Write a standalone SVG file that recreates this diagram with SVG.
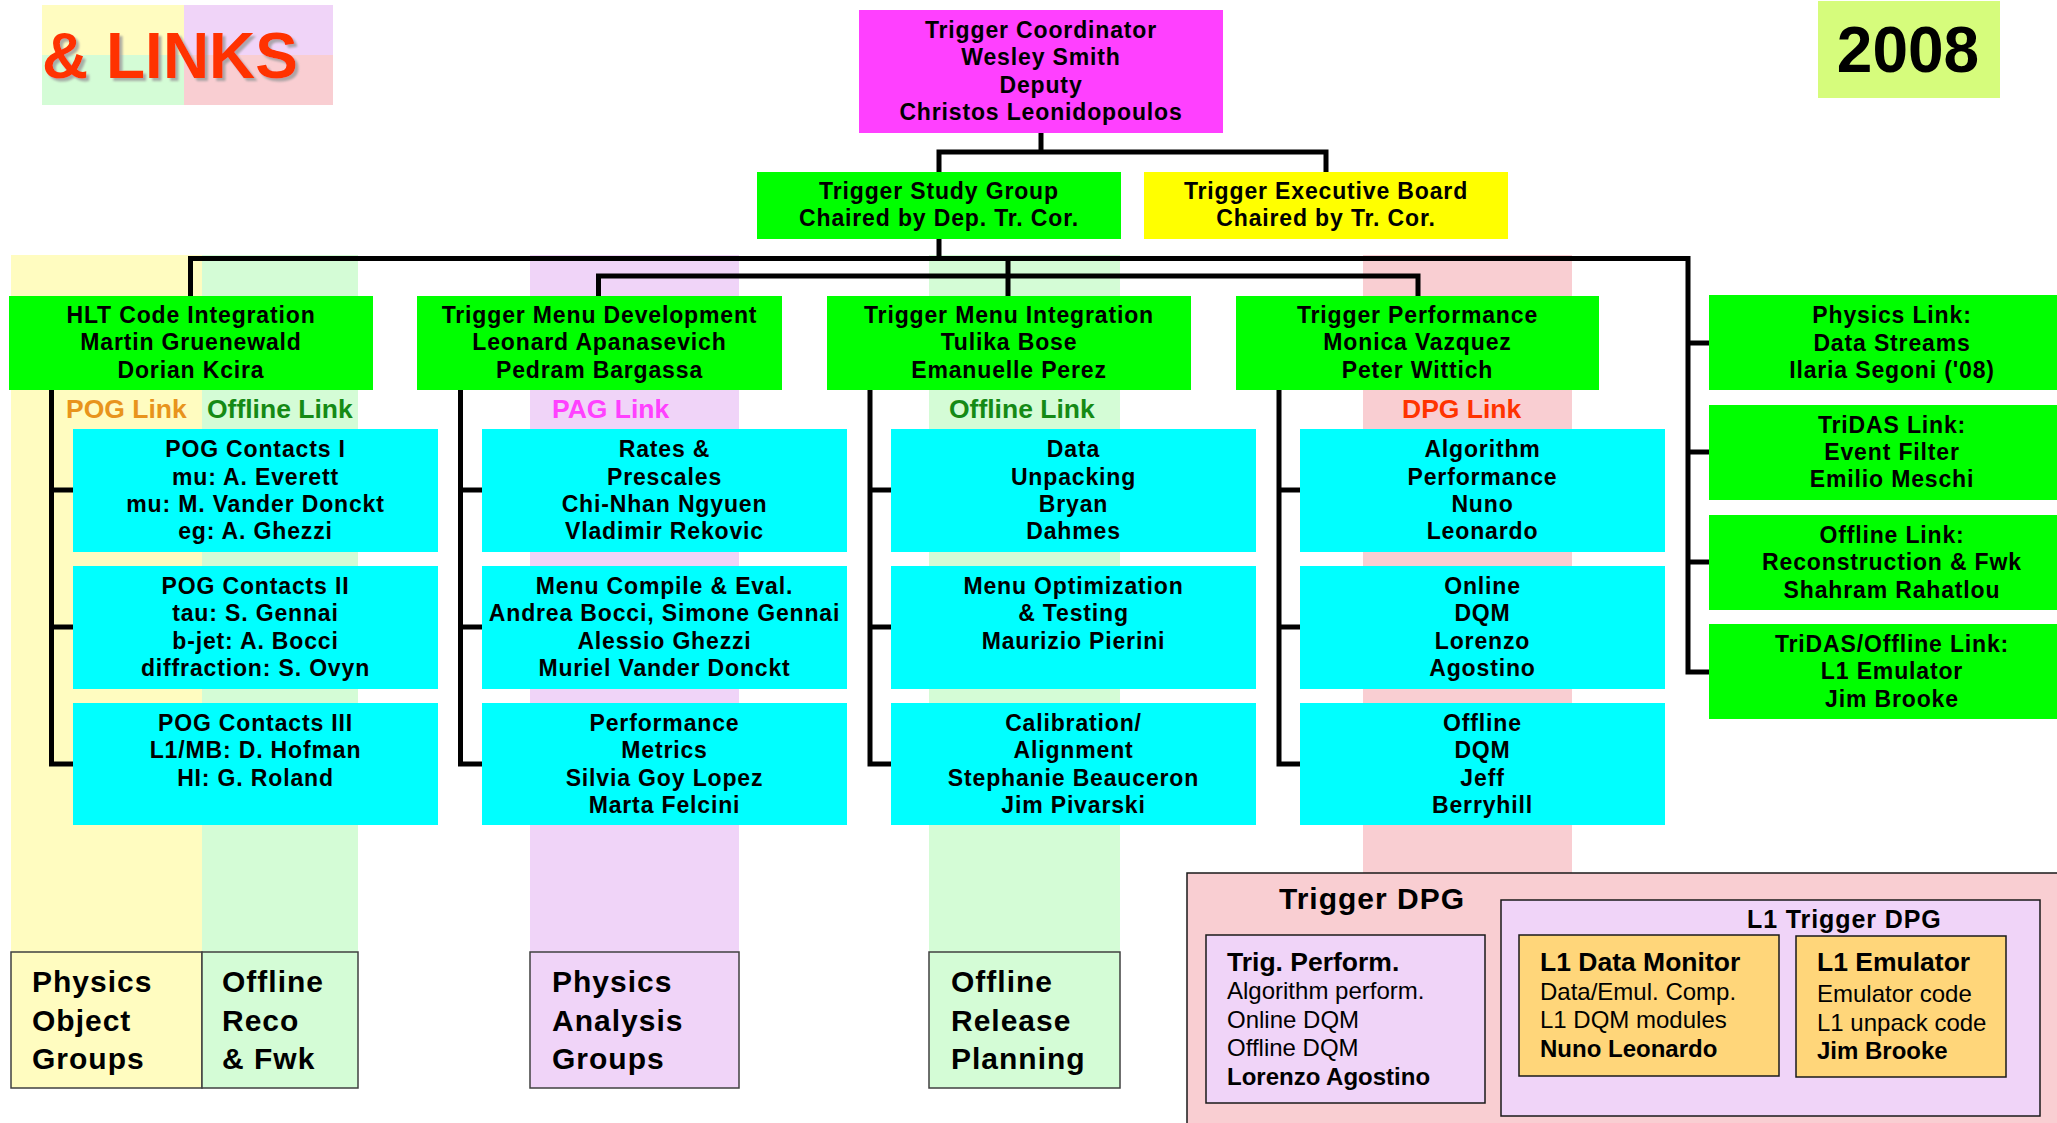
<svg xmlns="http://www.w3.org/2000/svg" width="2057" height="1123" viewBox="0 0 2057 1123">
<defs>
<style>
.yel{fill:#FFFCC0}.lgr{fill:#D4FCD6}.lav{fill:#F0D4F8}.pnk{fill:#F9CED2}
.grn{fill:#00FF00}.cyn{fill:#00FFFF}
.t{font-family:"Liberation Sans",Arial,Helvetica,sans-serif;font-weight:bold;font-size:23px;letter-spacing:0.85px;text-anchor:middle;fill:#000}
.lbl{font-family:"Liberation Sans",Arial,Helvetica,sans-serif;font-weight:bold;font-size:26.5px}
.big{font-family:"Liberation Sans",Arial,Helvetica,sans-serif;font-weight:bold;font-size:30px;letter-spacing:1px;fill:#000}
.hd{font-family:"Liberation Sans",Arial,Helvetica,sans-serif;font-weight:bold;font-size:26.5px;fill:#000}
.bd{font-family:"Liberation Sans",Arial,Helvetica,sans-serif;font-size:24px;fill:#000}
.bb{font-family:"Liberation Sans",Arial,Helvetica,sans-serif;font-weight:bold;font-size:24px;fill:#000}
.bx{stroke:#404040;stroke-width:1.5}
.dk{stroke:#1a1a1a;stroke-width:1.5}
.conn path{stroke:#000;stroke-width:5;fill:none;stroke-linejoin:miter}
</style>
<filter id="shadow" x="-10%" y="-10%" width="130%" height="140%">
<feDropShadow dx="3" dy="3" stdDeviation="0.8" flood-color="#9a9a9a" flood-opacity="0.8"/>
</filter>
</defs>
<rect width="2057" height="1123" fill="#ffffff"/>

<!-- title block -->
<g id="title-links">
<rect x="42" y="5" width="142" height="50" class="yel"/>
<rect x="184" y="5" width="149" height="50" class="lav"/>
<rect x="42" y="55" width="142" height="50" class="lgr"/>
<rect x="184" y="55" width="149" height="50" class="pnk"/>
<text x="42" y="78" font-family="Liberation Sans,Arial,sans-serif" font-weight="bold" font-size="64" fill="#FF3300" filter="url(#shadow)">&amp; LINKS</text>
</g>
<g id="year">
<rect x="1818" y="1" width="182" height="97" fill="#D6FC7C"/>
<text x="1908" y="72" font-family="Liberation Sans,Arial,sans-serif" font-weight="bold" font-size="64" text-anchor="middle" fill="#000">2008</text>
</g>

<!-- background columns -->
<g id="columns">
<rect x="11" y="255" width="191" height="697" class="yel"/>
<rect x="202" y="255" width="156" height="697" class="lgr"/>
<rect x="530" y="255" width="209" height="697" class="lav"/>
<rect x="929" y="255" width="191" height="697" class="lgr"/>
<rect x="1363" y="255" width="209" height="618" class="pnk"/>
</g>

<!-- connectors -->
<g id="connectors" class="conn">
<path d="M1041 133 V152"/>
<path d="M939 172 V152 H1326 V172"/>
<path d="M939 239 V258.5"/>
<path d="M190.5 296 V258.5 H1688 V672 H1709"/>
<path d="M1008 258.5 V296"/>
<path d="M598.5 296 V276 H1418 V296"/>
<path d="M1688 343 H1709"/>
<path d="M1688 452 H1709"/>
<path d="M1688 562 H1709"/>
<path d="M51.5 390 V764 H73"/>
<path d="M51.5 490 H73"/>
<path d="M51.5 627 H73"/>
<path d="M460.5 390 V764 H482"/>
<path d="M460.5 490 H482"/>
<path d="M460.5 627 H482"/>
<path d="M870 390 V764 H891"/>
<path d="M870 490 H891"/>
<path d="M870 627 H891"/>
<path d="M1279 390 V764 H1300"/>
<path d="M1279 490 H1300"/>
<path d="M1279 627 H1300"/>
</g>

<!-- top nodes -->
<g id="trigger-coordinator">
<rect x="859" y="10" width="364" height="123" fill="#FF40FF"/>
<text class="t" x="1041" y="37.5">Trigger Coordinator</text>
<text class="t" x="1041" y="65">Wesley Smith</text>
<text class="t" x="1041" y="92.5">Deputy</text>
<text class="t" x="1041" y="119.5">Christos Leonidopoulos</text>
</g>
<g id="trigger-study-group">
<rect x="757" y="172" width="364" height="67" class="grn"/>
<text class="t" x="939" y="199">Trigger Study Group</text>
<text class="t" x="939" y="226">Chaired by Dep. Tr. Cor.</text>
</g>
<g id="trigger-executive-board">
<rect x="1144" y="172" width="364" height="67" fill="#FFFF00"/>
<text class="t" x="1326" y="199">Trigger Executive Board</text>
<text class="t" x="1326" y="226">Chaired by Tr. Cor.</text>
</g>

<!-- row nodes -->
<g id="hlt-code-integration">
<rect x="9" y="296" width="364" height="94" class="grn"/>
<text class="t" x="191" y="323">HLT Code Integration</text>
<text class="t" x="191" y="350">Martin Gruenewald</text>
<text class="t" x="191" y="378">Dorian Kcira</text>
</g>
<g id="trigger-menu-development">
<rect x="417" y="296" width="365" height="94" class="grn"/>
<text class="t" x="599.5" y="323">Trigger Menu Development</text>
<text class="t" x="599.5" y="350">Leonard Apanasevich</text>
<text class="t" x="599.5" y="378">Pedram Bargassa</text>
</g>
<g id="trigger-menu-integration">
<rect x="827" y="296" width="364" height="94" class="grn"/>
<text class="t" x="1009" y="323">Trigger Menu Integration</text>
<text class="t" x="1009" y="350">Tulika Bose</text>
<text class="t" x="1009" y="378">Emanuelle Perez</text>
</g>
<g id="trigger-performance">
<rect x="1236" y="296" width="363" height="94" class="grn"/>
<text class="t" x="1417.5" y="323">Trigger Performance</text>
<text class="t" x="1417.5" y="350">Monica Vazquez</text>
<text class="t" x="1417.5" y="378">Peter Wittich</text>
</g>

<!-- link labels -->
<g id="labels">
<text class="lbl" x="66" y="418" fill="#E8941C">POG Link</text>
<text class="lbl" x="207" y="418" fill="#158A15">Offline Link</text>
<text class="lbl" x="552" y="418" fill="#FF40FF">PAG Link</text>
<text class="lbl" x="949" y="418" fill="#158A15">Offline Link</text>
<text class="lbl" x="1402" y="418" fill="#FF3300">DPG Link</text>
</g>

<!-- right link nodes -->
<g id="physics-link">
<rect x="1709" y="295" width="366" height="95" class="grn"/>
<text class="t" x="1892" y="323">Physics Link:</text>
<text class="t" x="1892" y="350.5">Data Streams</text>
<text class="t" x="1892" y="378">Ilaria Segoni ('08)</text>
</g>
<g id="tridas-link">
<rect x="1709" y="405" width="366" height="95" class="grn"/>
<text class="t" x="1892" y="433">TriDAS Link:</text>
<text class="t" x="1892" y="460">Event Filter</text>
<text class="t" x="1892" y="487">Emilio Meschi</text>
</g>
<g id="offline-link">
<rect x="1709" y="515" width="366" height="95" class="grn"/>
<text class="t" x="1892" y="543">Offline Link:</text>
<text class="t" x="1892" y="570">Reconstruction &amp; Fwk</text>
<text class="t" x="1892" y="597.5">Shahram Rahatlou</text>
</g>
<g id="tridas-offline-link">
<rect x="1709" y="624" width="366" height="95" class="grn"/>
<text class="t" x="1892" y="652">TriDAS/Offline Link:</text>
<text class="t" x="1892" y="679">L1 Emulator</text>
<text class="t" x="1892" y="706.5">Jim Brooke</text>
</g>

<!-- column 1 tasks -->
<g id="pog-contacts-1">
<rect x="73" y="429" width="365" height="123" class="cyn"/>
<text class="t" x="255.5" y="457">POG Contacts I</text>
<text class="t" x="255.5" y="484.5">mu: A. Everett</text>
<text class="t" x="255.5" y="512">mu: M. Vander Donckt</text>
<text class="t" x="255.5" y="539">eg: A. Ghezzi</text>
</g>
<g id="pog-contacts-2">
<rect x="73" y="566" width="365" height="123" class="cyn"/>
<text class="t" x="255.5" y="594">POG Contacts II</text>
<text class="t" x="255.5" y="621">tau: S. Gennai</text>
<text class="t" x="255.5" y="648.5">b-jet: A. Bocci</text>
<text class="t" x="255.5" y="676">diffraction: S. Ovyn</text>
</g>
<g id="pog-contacts-3">
<rect x="73" y="703" width="365" height="122" class="cyn"/>
<text class="t" x="255.5" y="731">POG Contacts III</text>
<text class="t" x="255.5" y="758">L1/MB: D. Hofman</text>
<text class="t" x="255.5" y="786">HI: G. Roland</text>
</g>

<!-- column 2 tasks -->
<g id="rates-prescales">
<rect x="482" y="429" width="365" height="123" class="cyn"/>
<text class="t" x="664.5" y="457">Rates &amp;</text>
<text class="t" x="664.5" y="484.5">Prescales</text>
<text class="t" x="664.5" y="512">Chi-Nhan Ngyuen</text>
<text class="t" x="664.5" y="539">Vladimir Rekovic</text>
</g>
<g id="menu-compile">
<rect x="482" y="566" width="365" height="123" class="cyn"/>
<text class="t" x="664.5" y="594">Menu Compile &amp; Eval.</text>
<text class="t" x="664.5" y="621">Andrea Bocci, Simone Gennai</text>
<text class="t" x="664.5" y="648.5">Alessio Ghezzi</text>
<text class="t" x="664.5" y="676">Muriel Vander Donckt</text>
</g>
<g id="performance-metrics">
<rect x="482" y="703" width="365" height="122" class="cyn"/>
<text class="t" x="664.5" y="731">Performance</text>
<text class="t" x="664.5" y="758">Metrics</text>
<text class="t" x="664.5" y="786">Silvia Goy Lopez</text>
<text class="t" x="664.5" y="813">Marta Felcini</text>
</g>

<!-- column 3 tasks -->
<g id="data-unpacking">
<rect x="891" y="429" width="365" height="123" class="cyn"/>
<text class="t" x="1073.5" y="457">Data</text>
<text class="t" x="1073.5" y="484.5">Unpacking</text>
<text class="t" x="1073.5" y="512">Bryan</text>
<text class="t" x="1073.5" y="539">Dahmes</text>
</g>
<g id="menu-optimization">
<rect x="891" y="566" width="365" height="123" class="cyn"/>
<text class="t" x="1073.5" y="594">Menu Optimization</text>
<text class="t" x="1073.5" y="621">&amp; Testing</text>
<text class="t" x="1073.5" y="648.5">Maurizio Pierini</text>
</g>
<g id="calibration-alignment">
<rect x="891" y="703" width="365" height="122" class="cyn"/>
<text class="t" x="1073.5" y="731">Calibration/</text>
<text class="t" x="1073.5" y="758">Alignment</text>
<text class="t" x="1073.5" y="786">Stephanie Beauceron</text>
<text class="t" x="1073.5" y="813">Jim Pivarski</text>
</g>

<!-- column 4 tasks -->
<g id="algorithm-performance">
<rect x="1300" y="429" width="365" height="123" class="cyn"/>
<text class="t" x="1482.5" y="457">Algorithm</text>
<text class="t" x="1482.5" y="484.5">Performance</text>
<text class="t" x="1482.5" y="512">Nuno</text>
<text class="t" x="1482.5" y="539">Leonardo</text>
</g>
<g id="online-dqm">
<rect x="1300" y="566" width="365" height="123" class="cyn"/>
<text class="t" x="1482.5" y="594">Online</text>
<text class="t" x="1482.5" y="621">DQM</text>
<text class="t" x="1482.5" y="648.5">Lorenzo</text>
<text class="t" x="1482.5" y="676">Agostino</text>
</g>
<g id="offline-dqm">
<rect x="1300" y="703" width="365" height="122" class="cyn"/>
<text class="t" x="1482.5" y="731">Offline</text>
<text class="t" x="1482.5" y="758">DQM</text>
<text class="t" x="1482.5" y="786">Jeff</text>
<text class="t" x="1482.5" y="813">Berryhill</text>
</g>

<!-- bottom group boxes -->
<g id="physics-object-groups">
<rect x="11" y="952" width="191" height="136" class="yel bx"/>
<text class="big" x="32" y="992">Physics</text>
<text class="big" x="32" y="1031">Object</text>
<text class="big" x="32" y="1069">Groups</text>
</g>
<g id="offline-reco-fwk">
<rect x="202" y="952" width="156" height="136" class="lgr bx"/>
<text class="big" x="222" y="992">Offline</text>
<text class="big" x="222" y="1031">Reco</text>
<text class="big" x="222" y="1069">&amp; Fwk</text>
</g>
<g id="physics-analysis-groups">
<rect x="530" y="952" width="209" height="136" class="lav bx"/>
<text class="big" x="552" y="992">Physics</text>
<text class="big" x="552" y="1031">Analysis</text>
<text class="big" x="552" y="1069">Groups</text>
</g>
<g id="offline-release-planning">
<rect x="929" y="952" width="191" height="136" class="lgr bx"/>
<text class="big" x="951" y="992">Offline</text>
<text class="big" x="951" y="1031">Release</text>
<text class="big" x="951" y="1069">Planning</text>
</g>

<!-- Trigger DPG -->
<g id="trigger-dpg">
<rect x="1187" y="873" width="900" height="270" class="pnk dk"/>
<text class="big" x="1279" y="909">Trigger DPG</text>
</g>
<g id="trig-perform">
<rect x="1206" y="935" width="279" height="168" class="lav dk"/>
<text class="hd" x="1227" y="971">Trig. Perform.</text>
<text class="bd" x="1227" y="999">Algorithm perform.</text>
<text class="bd" x="1227" y="1028">Online DQM</text>
<text class="bd" x="1227" y="1056">Offline DQM</text>
<text class="bb" x="1227" y="1085">Lorenzo Agostino</text>
</g>
<g id="l1-trigger-dpg">
<rect x="1501" y="900" width="539" height="216" class="lav dk"/>
<text class="hd" x="1747" y="928" style="font-size:25px;letter-spacing:0.9px">L1 Trigger DPG</text>
</g>
<g id="l1-data-monitor">
<rect x="1519" y="935" width="260" height="141" fill="#FFD67A" class="dk"/>
<text class="hd" x="1540" y="971">L1 Data Monitor</text>
<text class="bd" x="1540" y="1000">Data/Emul. Comp.</text>
<text class="bd" x="1540" y="1028">L1 DQM modules</text>
<text class="bb" x="1540" y="1057">Nuno Leonardo</text>
</g>
<g id="l1-emulator">
<rect x="1796" y="936" width="210" height="141" fill="#FFD67A" class="dk"/>
<text class="hd" x="1817" y="971">L1 Emulator</text>
<text class="bd" x="1817" y="1002">Emulator code</text>
<text class="bd" x="1817" y="1031">L1 unpack code</text>
<text class="bb" x="1817" y="1059">Jim Brooke</text>
</g>
</svg>
